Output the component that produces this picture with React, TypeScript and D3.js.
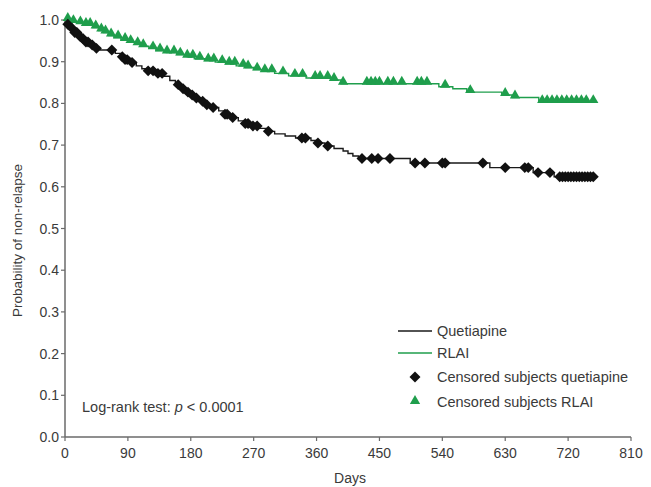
import * as d3 from 'd3'

// Kaplan-Meier steps: [day, probability]
const QUET_STEPS: [number, number][] = [
  [0, 1.0], [3, 0.99], [8, 0.98], [14, 0.97], [20, 0.96], [25, 0.955], [30, 0.947],
  [36, 0.94], [44, 0.932], [50, 0.928], [72, 0.92], [80, 0.912], [86, 0.905],
  [93, 0.898], [102, 0.89], [110, 0.883], [118, 0.878], [130, 0.872], [140, 0.865],
  [150, 0.855], [158, 0.845], [165, 0.835], [170, 0.827], [178, 0.82], [185, 0.813],
  [194, 0.805], [203, 0.797], [210, 0.79], [220, 0.782], [228, 0.774], [236, 0.766],
  [248, 0.758], [258, 0.752], [268, 0.746], [278, 0.74], [288, 0.733], [300, 0.727],
  [315, 0.722], [330, 0.717], [352, 0.711], [362, 0.705], [372, 0.698], [385, 0.692],
  [398, 0.686], [405, 0.68], [412, 0.674], [420, 0.668], [494, 0.657], [608, 0.646],
  [670, 0.634], [700, 0.624],
]
const QUET_END = 756

const RLAI_STEPS: [number, number][] = [
  [0, 1.0], [8, 0.995], [18, 0.992], [28, 0.988], [40, 0.982], [48, 0.975],
  [55, 0.97], [62, 0.963], [70, 0.958], [80, 0.952], [90, 0.947], [100, 0.942],
  [110, 0.937], [120, 0.932], [130, 0.927], [145, 0.922], [160, 0.917],
  [175, 0.912], [185, 0.907], [200, 0.903], [215, 0.899], [230, 0.895],
  [245, 0.89], [258, 0.886], [270, 0.881], [282, 0.877], [300, 0.872],
  [320, 0.866], [345, 0.861], [380, 0.856], [395, 0.847], [535, 0.84],
  [555, 0.835], [575, 0.827], [625, 0.82], [640, 0.814], [678, 0.803],
]
const RLAI_END = 756

// censored subjects (days)
const QUET_CENSORED = [
  4, 10, 14, 17, 22, 26, 30, 33, 39, 45, 67, 82, 86, 89, 96, 119, 126, 133, 139,
  162, 169, 176, 182, 188, 197, 203, 212, 229, 232, 240, 258, 262, 269, 275, 291,
  339, 344, 362, 376, 425, 439, 448, 465, 501, 515, 540, 544, 598, 630, 658, 663,
  677, 694, 708, 712, 716, 720, 724, 728, 732, 736, 740, 744, 748, 752, 756,
]
const RLAI_CENSORED = [
  4, 12, 22, 30, 36, 44, 52, 58, 66, 76, 86, 94, 104, 112, 126, 136, 146, 156, 165,
  175, 183, 193, 205, 213, 225, 235, 243, 255, 262, 275, 286, 296, 312, 329, 340,
  358, 365, 376, 385, 398, 432, 438, 444, 450, 462, 470, 482, 504, 510, 518, 544,
  580, 630, 644, 683, 690, 697, 704, 711, 718, 725, 732, 739, 746, 756,
]

const X_TICKS = [0, 90, 180, 270, 360, 450, 540, 630, 720, 810]
const Y_TICKS = [0, 0.1, 0.2, 0.3, 0.4, 0.5, 0.6, 0.7, 0.8, 0.9, 1.0]

const W = 651
const H = 487
const GREEN = '#1f9e4c'
const AXIS = '#6a6a6a'
const TEXT = '#3a3a3a'
const FONT = '"Liberation Sans", Arial, sans-serif'

const x = d3.scaleLinear().domain([0, 810]).range([65, 631])
const y = d3.scaleLinear().domain([0, 1]).range([437, 20])

function survAt(steps: [number, number][], day: number) {
  let v = steps[0][1]
  for (const [d, s] of steps) if (d <= day) v = s
  return v
}

const stepLine = d3.line<[number, number]>()
  .x(d => x(d[0]))
  .y(d => y(d[1]))
  .curve(d3.curveStepAfter)

const diamond = d3.symbol().type(d3.symbolSquare).size(60)()
const triangle = d3.symbol().type(d3.symbolTriangle).size(46)()

export default function App() {
  const quetPath = stepLine([...QUET_STEPS, [QUET_END, QUET_STEPS[QUET_STEPS.length - 1][1]]])
  const rlaiPath = stepLine([...RLAI_STEPS, [RLAI_END, RLAI_STEPS[RLAI_STEPS.length - 1][1]]])

  return (
    <svg width={W} height={H} style={{ position: 'absolute', left: 0, top: 0, background: '#fff' }}
      fontFamily={FONT}>
      {/* axes */}
      <line x1={x(0)} x2={x(810)} y1={y(0)} y2={y(0)} stroke={AXIS} strokeWidth={1.5} />
      <line x1={x(0)} x2={x(0)} y1={y(0)} y2={y(1)} stroke={AXIS} strokeWidth={1.5} />
      {X_TICKS.map(t => (
        <g key={t}>
          <line x1={x(t)} x2={x(t)} y1={y(0)} y2={y(0) + 4} stroke={AXIS} strokeWidth={1.2} />
          <text x={x(t)} y={y(0) + 21} textAnchor="middle" fontSize={14} fill={TEXT}>{t}</text>
        </g>
      ))}
      {Y_TICKS.map(t => (
        <g key={t}>
          <line x1={x(0) - 4} x2={x(0)} y1={y(t)} y2={y(t)} stroke={AXIS} strokeWidth={1.2} />
          <text x={x(0) - 6} y={y(t) + 5} textAnchor="end" fontSize={14} fill={TEXT}>{t.toFixed(1)}</text>
        </g>
      ))}
      <text x={350} y={483} textAnchor="middle" fontSize={14} fill={TEXT}>Days</text>
      <text transform={`translate(22,${(y(0) + y(1)) / 2 + 12}) rotate(-90)`} textAnchor="middle"
        fontSize={13.5} fill={TEXT}>Probability of non-relapse</text>

      {/* curves */}
      <path d={rlaiPath ?? ''} fill="none" stroke={GREEN} strokeWidth={1.4} />
      <path d={quetPath ?? ''} fill="none" stroke="#1a1a1a" strokeWidth={1.4} />
      {RLAI_CENSORED.map((d, i) => (
        <path key={i} d={triangle ?? ''} fill={GREEN}
          transform={`translate(${x(d)},${y(survAt(RLAI_STEPS, d)) - 2})`} />
      ))}
      {QUET_CENSORED.map((d, i) => (
        <path key={i} d={diamond ?? ''} fill="#111"
          transform={`translate(${x(d)},${y(survAt(QUET_STEPS, d))}) rotate(45)`} />
      ))}

      {/* legend */}
      <g fontSize={14.5} fill={TEXT}>
        <line x1={398} x2={432} y1={331} y2={331} stroke="#1a1a1a" strokeWidth={1.4} />
        <text x={437} y={336}>Quetiapine</text>
        <line x1={398} x2={432} y1={353} y2={353} stroke={GREEN} strokeWidth={1.4} />
        <text x={437} y={358}>RLAI</text>
        <path d={diamond ?? ''} fill="#111" transform="translate(415,377) rotate(45)" />
        <text x={437} y={382}>Censored subjects quetiapine</text>
        <path d={triangle ?? ''} fill={GREEN} transform="translate(415,401)" />
        <text x={437} y={406.5}>Censored subjects RLAI</text>
      </g>
      <text x={82} y={412} fontSize={14.5} fill={TEXT}>
        Log-rank test: <tspan fontStyle="italic">p</tspan> &lt; 0.0001
      </text>
    </svg>
  )
}
